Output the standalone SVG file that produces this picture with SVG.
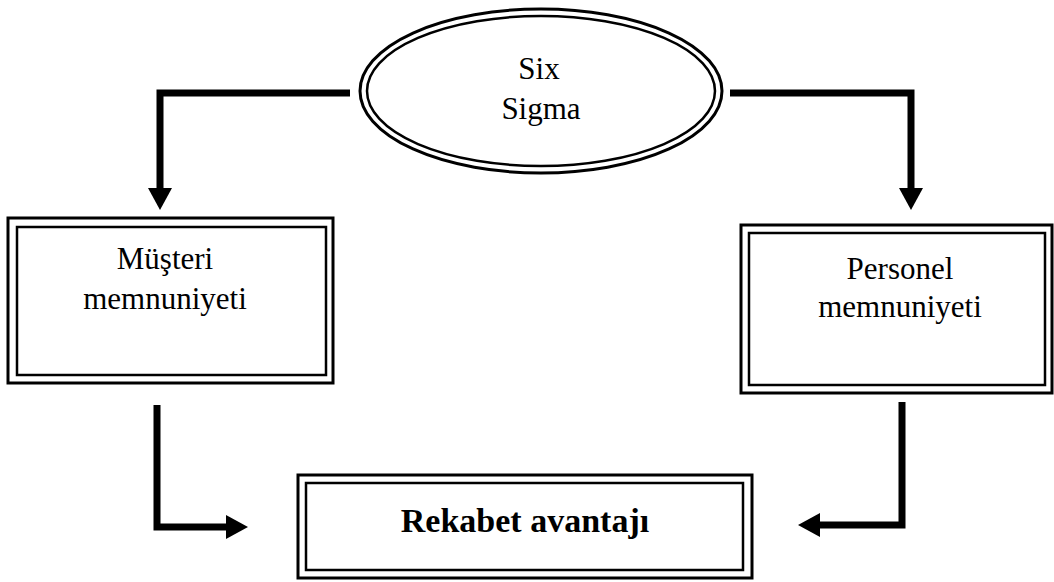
<svg xmlns="http://www.w3.org/2000/svg" width="1054" height="582" viewBox="0 0 1054 582">
<style>
  .outer { fill: none; stroke: #000; stroke-width: 3; }
  .inner { fill: none; stroke: #000; stroke-width: 2.5; }
  .lbl { font-family: "Liberation Serif", "Times New Roman", serif; font-size: 31px; fill: #000; text-anchor: middle; }
  .bold { font-weight: bold; font-size: 34px; }
  .conn { fill: none; stroke: #000; stroke-width: 7; stroke-linejoin: miter; }
</style>
<defs>
  <marker id="arr" viewBox="0 0 22 24" refX="10" refY="12" markerWidth="22" markerHeight="24" markerUnits="userSpaceOnUse" orient="auto">
    <path d="M0,0 L22,12 L0,24 z" fill="#000"/>
  </marker>
</defs>
<rect width="1054" height="582" fill="#fff"/>
<g id="connectors">
  <path class="conn" d="M350,93 H160 V198" marker-end="url(#arr)"/>
  <path class="conn" d="M730,93 H911 V198" marker-end="url(#arr)"/>
  <path class="conn" d="M157,405 V527 H236" marker-end="url(#arr)"/>
  <path class="conn" d="M902,402 V525 H810" marker-end="url(#arr)"/>
</g>
<g id="six-sigma">
  <ellipse class="outer" cx="541" cy="91" rx="181" ry="82"/>
  <ellipse class="inner" cx="541" cy="91" rx="174" ry="75"/>
  <text class="lbl" x="539" y="79">Six</text>
  <text class="lbl" x="541" y="119">Sigma</text>
</g>
<g id="musteri">
  <rect class="outer" x="8" y="218" width="325" height="165"/>
  <rect class="inner" x="17" y="227" width="309" height="148"/>
  <text class="lbl" x="165" y="269">Müşteri</text>
  <text class="lbl" x="165" y="309">memnuniyeti</text>
</g>
<g id="personel">
  <rect class="outer" x="741" y="225" width="311" height="168"/>
  <rect class="inner" x="749" y="233" width="296" height="152"/>
  <text class="lbl" x="900" y="279">Personel</text>
  <text class="lbl" x="900" y="317">memnuniyeti</text>
</g>
<g id="rekabet">
  <rect class="outer" x="298" y="475" width="454" height="103"/>
  <rect class="inner" x="306" y="483" width="437" height="87"/>
  <text class="lbl bold" x="525" y="532">Rekabet avantajı</text>
</g>
</svg>
